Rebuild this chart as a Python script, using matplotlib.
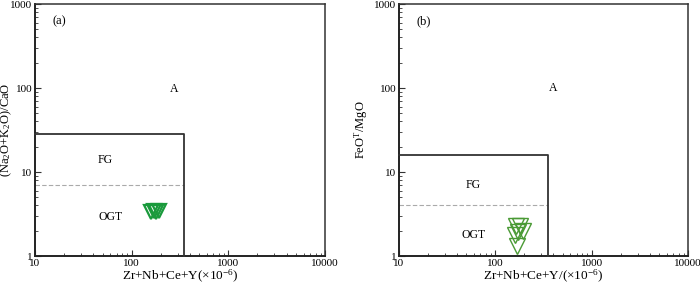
import matplotlib.pyplot as plt
from matplotlib.ticker import LogLocator, NullFormatter, FixedFormatter, FixedLocator

plt.rcParams['font.family'] = ['Liberation Serif', 'DejaVu Serif']
plt.rcParams['mathtext.fontset'] = 'custom'
plt.rcParams['mathtext.rm'] = 'Liberation Serif'
plt.rcParams['mathtext.default'] = 'rm'

# --- data ---
a_x = [160, 170, 180, 192]
a_y = [3.3, 3.4, 3.3, 3.45]
b_x = [165, 180, 194, 160, 172, 167]
b_y = [2.3, 2.25, 2.0, 1.8, 1.95, 1.3]

# field boundaries (x limit, FG/A limit, OGT/FG limit)
a_box = (350, 28, 7)
b_box = (350, 16, 4)

ticks = [1, 10, 100, 1000]
tick_labels = ['1', '10', '100', '1000']
xticks = [10, 100, 1000, 10000]
xtick_labels = ['10', '100', '1000', '10000']

fig = plt.figure(figsize=(7.0, 2.87), dpi=100)
ax1 = fig.add_axes([35/700, 31/287, 290/700, 252/287])
ax2 = fig.add_axes([399/700, 31/287, 289/700, 252/287])


def setup(ax, box, ylabel, xlabel, tag, labels, ylab_x):
    ax.set_xscale('log')
    ax.set_yscale('log')
    ax.set_xlim(10, 10000)
    ax.set_ylim(1, 1000)
    xr, ytop, ydash = box
    ax.plot([10, xr, xr], [ytop, ytop, 1], color='#333333', lw=1.3, clip_on=False, zorder=3)
    ax.plot([10, xr], [ydash, ydash], color='#aaaaaa', lw=0.8, ls=(0, (4, 2)), zorder=2)
    for sp in ['left', 'bottom']:
        ax.spines[sp].set_linewidth(1.4)
        ax.spines[sp].set_color('#222222')
    for sp in ['top', 'right']:
        ax.spines[sp].set_linewidth(1.1)
        ax.spines[sp].set_color('#333333')
    ax.xaxis.set_major_locator(FixedLocator(xticks))
    ax.xaxis.set_major_formatter(FixedFormatter(xtick_labels))
    ax.yaxis.set_major_locator(FixedLocator(ticks))
    ax.yaxis.set_major_formatter(FixedFormatter(tick_labels))
    ax.xaxis.set_minor_locator(LogLocator(base=10, subs=range(2, 10)))
    ax.yaxis.set_minor_locator(LogLocator(base=10, subs=range(2, 10)))
    ax.xaxis.set_minor_formatter(NullFormatter())
    ax.yaxis.set_minor_formatter(NullFormatter())
    ax.tick_params(which='both', direction='in', top=False, right=False,
                   labelsize=8, color='#333333', pad=2)
    ax.tick_params(which='major', length=4, width=0.8)
    ax.tick_params(which='minor', length=2.5, width=0.6)
    ax.set_xlabel(xlabel, fontsize=9.5, labelpad=0)
    ax.set_ylabel(ylabel, fontsize=9)
    ax.yaxis.set_label_coords(ylab_x, 0.5)
    ax.text(0.06, 0.955, tag, transform=ax.transAxes, fontsize=9, va='top', ha='left')
    for txt, x, y in labels:
        ax.text(x, y, txt, fontsize=8.5, ha='center', va='center')


setup(ax1, a_box, '(Na$_2$O+K$_2$O)/CaO', 'Zr+Nb+Ce+Y(\u00d710$^{-6}$)', '(a)',
      [('A', 274, 97), ('FG', 53, 14), ('OGT', 60, 2.9)], -0.071)
setup(ax2, b_box, 'FeO$^{\\mathrm{T}}$/MgO', 'Zr+Nb+Ce+Y/(\u00d710$^{-6}$)', '(b)',
      [('A', 394, 100), ('FG', 59, 7), ('OGT', 59, 1.8)], -0.1)

ax1.plot(a_x, a_y, 'v', ms=10, mfc='none', mec='#1a9a3c', mew=1.6, zorder=4)
ax2.plot(b_x, b_y, 'v', ms=12, mfc='none', mec='#4a9a35', mew=1.0, zorder=4, clip_on=False)

fig.savefig('out.png', dpi=100)
